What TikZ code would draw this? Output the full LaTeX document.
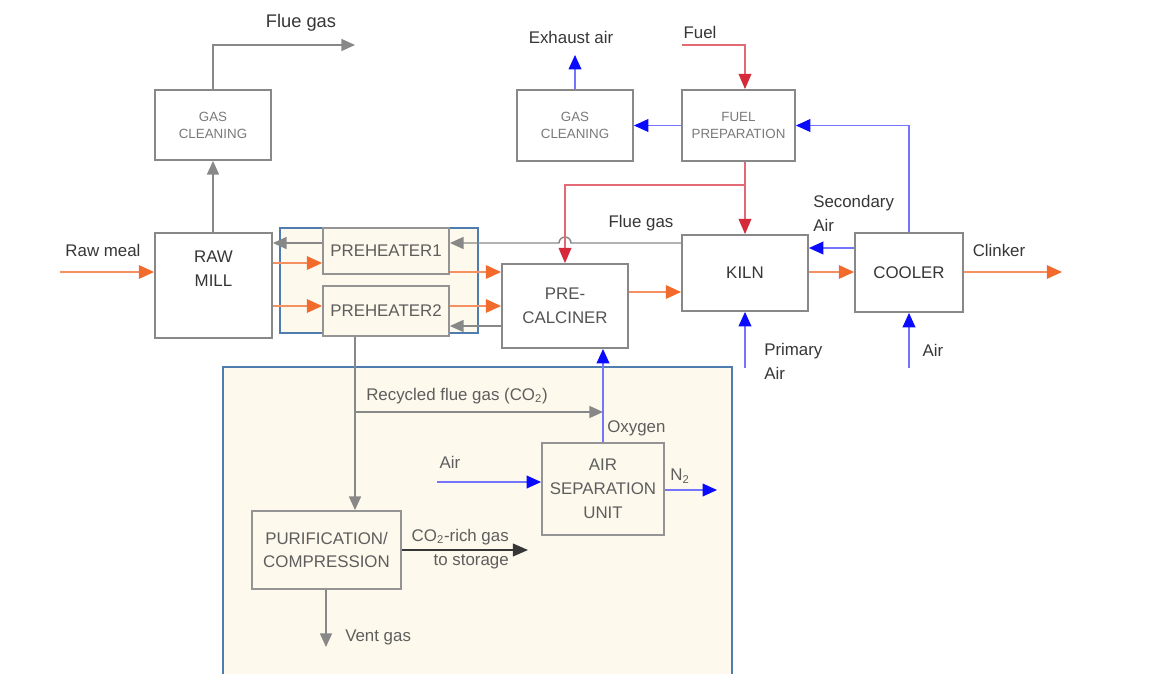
\documentclass[tikz,border=0pt]{standalone}
\usepackage{fontspec}
\setmainfont{Liberation Sans}
\usetikzlibrary{arrows.meta}
\definecolor{cemOrange}{HTML}{F26B2C}
\definecolor{cemRed}{HTML}{D42A3A}
\definecolor{cemBlue}{HTML}{0A0AFF}
\definecolor{cemLightBlue}{HTML}{7474FF}
\definecolor{cemGray}{HTML}{888888}
\definecolor{cemDark}{HTML}{363636}
\definecolor{cemText}{HTML}{5E5E5E}
\definecolor{cemCream}{HTML}{FDF9EC}
\definecolor{cemFrame}{HTML}{4F7DB0}
\newcommand\cemfont{\fontsize{12}{17}\selectfont}
\newcommand\cemsmall{\fontsize{9.5}{12}\selectfont}
\tikzset{
  cem box/.style={draw=cemGray, line width=1.3pt, fill=white, inner sep=0pt, align=center, font=\cemfont, text=cemDark},
  cem pale box/.style={cem box, draw=cemGray!90, fill=cemCream, text=cemText},
  cem small box/.style={cem box, font=\cemsmall, text=cemGray!90!black},
  cem feed/.style={draw=cemOrange!75, line width=.9pt, -{Triangle[length=3.8mm,width=3.4mm,color=cemOrange]}},
  cem fuel/.style={draw=cemRed!70, line width=.8pt, -{Triangle[length=3.8mm,width=3.2mm,color=cemRed]}},
  cem air/.style={draw=cemLightBlue, line width=.8pt, -{Triangle[length=3.6mm,width=3.2mm,color=cemBlue]}},
  cem gas/.style={draw=cemGray, line width=1pt, -{Triangle[length=3.4mm,width=3mm]}},
  cem product/.style={draw=cemDark, line width=1.2pt, -{Triangle[length=3.8mm,width=3.2mm]}},
  cem label/.style={font=\cemfont, text=cemDark, inner sep=0pt},
  cem note/.style={cem label, text=cemText},
}

\begin{document}
\begin{tikzpicture}[x=.025cm,y=-.025cm]
  \useasboundingbox (0,0) rectangle (1160,673);
  % capture area and preheater tower
  \node[draw=cemFrame, line width=1pt, fill=cemCream, minimum width=12.725cm, minimum height=8.325cm] (capture) at (477.5,533.5) {};
  \node[draw=cemFrame, line width=.8pt, fill=cemCream, minimum width=4.95cm, minimum height=2.625cm] (phframe) at (379,280.5) {};
  % units
  \node[cem small box, minimum width=2.9cm, minimum height=1.75cm] (gasL) at (213,125) {GAS\\CLEANING};
  \node[cem box, minimum width=2.925cm, minimum height=2.625cm, label={[cem label, align=center, yshift=.41cm]center:RAW\\MILL}] (rawmill) at (213.5,285.5) {};
  \node[cem pale box, minimum width=3.15cm, minimum height=1.15cm] (ph1) at (386,251) {PREHEATER1};
  \node[cem pale box, minimum width=3.15cm, minimum height=1.25cm] (ph2) at (386,311) {PREHEATER2};
  \node[cem box, minimum width=3.15cm, minimum height=2.1cm, text=cemDark!85] (pcal) at (565,306) {PRE-\\CALCINER};
  \node[cem box, minimum width=3.15cm, minimum height=1.9cm] (kiln) at (745,273) {KILN};
  \node[cem box, minimum width=2.7cm, minimum height=1.975cm] (cooler) at (909,272.5) {COOLER};
  \node[cem small box, minimum width=2.9cm, minimum height=1.775cm] (gasR) at (575,125.5) {GAS\\CLEANING};
  \node[cem small box, minimum width=2.825cm, minimum height=1.775cm] (fuel) at (738.5,125.5) {FUEL\\PREPARATION};
  \node[cem pale box, minimum width=3.05cm, minimum height=2.3cm] (asu) at (603,489) {AIR\\SEPARATION\\UNIT};
  \node[cem pale box, minimum width=3.725cm, minimum height=1.95cm] (pur) at (326.5,550) {PURIFICATION/\\COMPRESSION};
  % levels and free ends
  \coordinate (yRet) at (0,243);   \coordinate (yIn1) at (0,263);
  \coordinate (yIn2) at (0,306);   \coordinate (yOut1) at (0,272);
  \coordinate (yRet2) at (0,326);  \coordinate (yHot) at (0,292);
  \coordinate (yRed) at (0,185);   \coordinate (ySec) at (0,248);
  \coordinate (yRec) at (0,412);   \coordinate (xDown) at (355,0);
  \coordinate (rawIn) at (60,272);     \coordinate (flueOut) at (355,45);
  \coordinate (fuelIn) at (682,45);    \coordinate (exhaustOut) at (575,55);
  \coordinate (clinkerOut) at (1062,272);
  \coordinate (primIn) at (745,368);   \coordinate (coolIn) at (909,368);
  \coordinate (airIn) at (437,482);    \coordinate (n2Out) at (717,490);
  \coordinate (co2Out) at (528,550);   \coordinate (ventOut) at (326,647);
  \coordinate (jump) at (pcal.north |- yRet);
  % raw meal line
  \draw[cem feed] (rawIn) -- (rawmill.west |- rawIn);
  \draw[cem gas] (gasL.south |- rawmill.north) -- (gasL.south);
  \draw[cem gas] (gasL.north) |- (flueOut);
  \draw[cem gas] (ph1.west |- yRet) -- (rawmill.east |- yRet);
  \draw[cem feed] (rawmill.east |- yIn1) -- (ph1.west |- yIn1);
  \draw[cem feed] (rawmill.east |- yIn2) -- (ph2.west |- yIn2);
  \draw[cem feed] (ph1.east |- yOut1) -- (pcal.west |- yOut1);
  \draw[cem feed] (ph2.east |- yIn2) -- (pcal.west |- yIn2);
  \draw[cem gas] (pcal.west |- yRet2) -- (ph2.east |- yRet2);
  \draw[cem feed] (pcal.east |- yHot) -- (kiln.west |- yHot);
  \draw[cem gas] (kiln.west |- yRet) -- ([xshift=.15cm]jump) arc[start angle=0, end angle=180, radius=.15cm] -- (ph1.east |- yRet);
  \draw[cem feed] (kiln.east |- yOut1) -- (cooler.west |- yOut1);
  \draw[cem feed] (cooler.east |- yOut1) -- (clinkerOut);
  % fuel
  \draw[cem fuel] (fuelIn) -| (fuel.north -| kiln.north);
  \draw[cem fuel] (fuel.south -| kiln.north) -- (kiln.north);
  \draw[cem fuel] (kiln.north |- yRed) -| (pcal.north);
  % air
  \draw[cem air] (fuel.west) -- (gasR.east);
  \draw[cem air] (gasR.north) -- (exhaustOut);
  \draw[cem air] (cooler.north) |- (fuel.east);
  \draw[cem air] (cooler.west |- ySec) -- (kiln.east |- ySec);
  \draw[cem air] (primIn) -- (kiln.south);
  \draw[cem air] (coolIn) -- (cooler.south);
  % capture
  \draw[cem gas] (ph2.south -| xDown) -- (pur.north -| xDown);
  \draw[cem gas] (xDown |- yRec) -- (asu.north |- yRec);
  \draw[cem air] (asu.north) -- (pcal.south -| asu.north);
  \draw[cem air] (airIn) -- (asu.west |- airIn);
  \draw[cem air] (asu.east |- n2Out) -- (n2Out);
  \draw[cem product] (pur.east) -- (co2Out);
  \draw[cem gas] (pur.south -| ventOut) -- (ventOut);
  % labels
  \node[cem label, font=\fontsize{13}{17}\selectfont] (lFlueTop) at (301,23) {Flue gas};
  \node[cem label] (lExhaust) at (571,37) {Exhaust air};
  \node[cem label] (lFuel) at (700,32) {Fuel};
  \node[cem label] (lRaw) at (103,250) {Raw meal};
  \node[cem label] (lFlue) at (641,223) {Flue gas};
  \node[cem label, anchor=west, align=left] (lSec) at (813,213.5) {Secondary\\Air};
  \node[cem label] (lClinker) at (999,250) {Clinker};
  \node[cem label, anchor=west, align=left] (lPrim) at (764,361) {Primary\\Air};
  \node[cem label] (lAir) at (933,350) {Air};
  \node[cem note, anchor=west] (lRec) at (366,396) {Recycled flue gas (CO\textsubscript{2})};
  \node[cem note, anchor=west] (lOxy) at (607,428) {Oxygen};
  \node[cem note] (lAsuAir) at (450,462) {Air};
  \node[cem note] (lN2) at (680,476) {N\textsubscript{2}};
  \node[cem note, anchor=east, align=right] (lCO2) at (509,549) {CO\textsubscript{2}-rich gas\\to storage};
  \node[cem note, anchor=west] (lVent) at (345,637) {Vent gas};
\end{tikzpicture}
\end{document}
